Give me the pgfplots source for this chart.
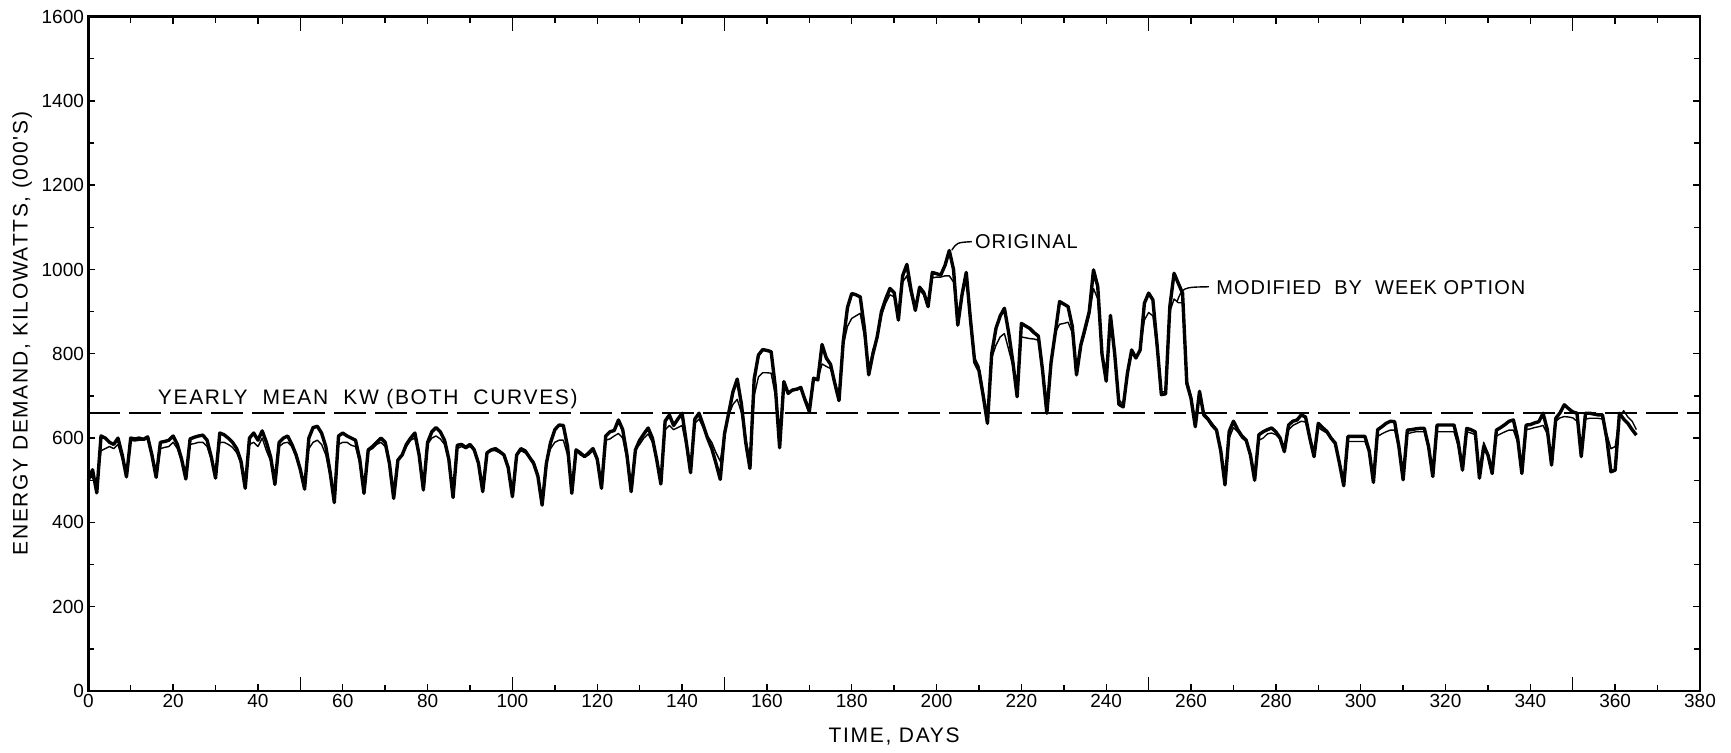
\documentclass[border=0pt]{standalone}
\usepackage{fontspec}
\setmainfont{Liberation Sans}
\newfontfamily\lbl[LetterSpace=8]{Liberation Sans}
\newfontfamily\lbs[LetterSpace=5]{Liberation Sans}
\usepackage{pgfplots}
\pgfplotsset{compat=1.18}
\usepackage{pgfplotstable}

\pgfplotstableread{
d t m
0 500 515
1 525 505
2 470 490
3 605 570
4 600 575
5 590 580
6 585 575
7 600 585
8 560 550
9 508 520
10 600 595
11 598 593
12 600 595
13 597 595
14 603 598
15 560 560
16 507 515
17 590 575
18 592 578
19 595 580
20 605 590
21 585 575
22 550 545
23 503 510
24 598 585
25 602 587
26 605 590
27 607 590
28 595 580
29 555 550
30 505 515
31 612 590
32 608 590
33 600 585
34 590 578
35 575 565
36 545 540
37 481 490
38 600 585
39 612 590
40 595 580
41 617 600
42 590 570
43 555 545
44 490 500
45 590 580
46 600 588
47 605 590
48 585 580
49 560 555
50 525 525
51 479 490
52 600 575
53 625 590
54 628 595
55 612 585
56 580 560
57 520 510
58 447 470
59 605 585
60 612 590
61 605 590
62 600 583
63 595 580
64 550 540
65 469 480
66 572 570
67 580 575
68 590 585
69 600 590
70 590 580
71 540 535
72 457 470
73 548 550
74 560 560
75 585 580
76 600 595
77 612 600
78 560 555
79 477 490
80 590 585
81 615 600
82 625 605
83 615 598
84 595 585
85 550 545
86 459 470
87 583 575
88 585 580
89 578 575
90 585 580
91 572 570
92 540 540
93 473 485
94 565 565
95 572 570
96 575 570
97 568 565
98 560 560
99 530 530
100 461 475
101 560 560
102 575 570
103 570 565
104 555 555
105 540 545
106 510 515
107 441 455
108 540 545
109 590 575
110 620 590
111 631 595
112 630 595
113 580 560
114 469 480
115 572 570
116 565 560
117 556 555
118 565 560
119 575 570
120 550 545
121 481 490
122 605 595
123 615 598
124 618 605
125 643 611
126 620 600
127 560 550
128 473 485
129 572 572
130 595 585
131 610 600
132 624 610
133 600 590
134 550 545
135 491 500
136 640 620
137 655 630
138 630 620
139 645 625
140 659 630
141 590 580
142 518 525
143 645 635
144 659 645
145 630 625
146 600 605
147 575 590
148 540 565
149 502 545
150 610 610
151 660 655
152 710 680
153 740 692
154 680 660
155 590 600
156 528 545
157 740 700
158 797 745
159 810 755
160 808 755
161 805 754
162 720 700
163 577 600
164 734 728
165 706 710
166 714 712
167 716 714
168 720 718
169 690 695
170 663 672
171 742 740
172 738 738
173 822 776
174 790 770
175 775 765
176 730 735
177 689 700
178 830 820
179 910 865
180 943 884
181 940 890
182 935 896
183 860 840
184 750 760
185 800 810
186 840 835
187 900 890
188 930 920
189 955 940
190 945 935
191 880 885
192 985 970
193 1012 985
194 950 940
195 903 910
196 958 950
197 945 940
198 912 918
199 993 980
200 990 982
201 987 982
202 1010 985
203 1045 985
204 1000 970
205 868 880
206 940 935
207 993 980
208 880 870
209 780 790
210 760 770
211 700 710
212 635 650
213 800 790
214 860 820
215 890 840
216 908 848
217 850 810
218 780 770
219 698 710
220 872 840
221 866 838
222 860 836
223 850 835
224 842 832
225 760 760
226 659 670
227 780 790
228 850 850
229 924 870
230 918 872
231 912 875
232 865 850
233 750 760
234 820 815
235 860 850
236 900 890
237 999 955
238 960 930
239 800 800
240 735 745
241 891 880
242 800 800
243 680 690
244 674 680
245 754 750
246 809 800
247 790 790
248 809 805
249 920 880
250 944 898
251 928 890
252 820 810
253 703 710
254 705 710
255 912 900
256 991 930
257 967 921
258 944 921
259 730 740
260 694 700
261 627 640
262 711 700
263 655 660
264 645 648
265 630 635
266 619 622
267 570 575
268 489 500
269 616 600
270 640 625
271 620 615
272 605 600
273 595 592
274 560 560
275 500 510
276 608 595
277 615 600
278 620 610
279 624 612
280 615 608
281 600 598
282 568 575
283 631 620
284 640 630
285 643 635
286 655 640
287 650 638
288 600 600
289 556 565
290 635 625
291 625 618
292 616 612
293 600 598
294 588 585
295 540 545
296 487 500
297 604 592
298 604 592
299 604 592
300 604 592
301 604 592
302 570 565
303 495 505
304 620 604
305 627 610
306 635 615
307 640 619
308 639 619
309 580 575
310 501 510
311 619 610
312 620 613
313 622 615
314 623 615
315 623 615
316 580 575
317 509 515
318 631 615
319 631 615
320 631 615
321 631 615
322 631 615
323 590 580
324 524 530
325 623 615
326 620 612
327 615 608
328 505 525
329 580 590
330 560 565
331 516 525
332 619 605
333 625 610
334 632 615
335 640 619
336 643 619
337 600 590
338 516 525
339 631 620
340 632 622
341 636 625
342 639 627
343 659 630
344 620 610
345 536 545
346 647 640
347 660 648
348 679 651
349 670 650
350 662 648
351 659 640
352 556 580
353 659 645
354 659 647
355 657 647
356 655 647
357 655 645
358 600 610
359 520 575
360 524 580
361 659 650
362 645 665
363 635 650
364 620 640
365 607 620
}\energy

\begin{document}
\begin{tikzpicture}
\useasboundingbox (-44.15pt,-31pt) rectangle (821.35pt,345.5pt);
\begin{axis}[
  at={(0pt,0pt)}, anchor=south west,
  scale only axis, width=805.85pt, height=337.2pt,
  xmin=0, xmax=380, ymin=0, ymax=1600,
  xtick={0,20,...,380}, minor xtick={10,30,...,370},
  ytick={0,200,...,1600}, minor ytick={100,300,...,1500},
  extra x ticks={50,100,150,250,350}, extra x tick labels={},
  extra x tick style={major tick length=7pt},
  tick align=inside,
  major tick length=3.5pt, minor tick length=3pt,
  axis line style={line width=1.4pt},
  every tick/.style={black, line width=0.7pt},
  tick label style={font=\fontsize{9.5}{10}\selectfont},
  /pgf/number format/assume math mode=true,
  /pgf/number format/set thousands separator={},
  xticklabel style={inner sep=1.5pt},
  yticklabel style={inner sep=2pt},
  xlabel={\lbl TIME, DAYS},
  ylabel={\lbl ENERGY DEMAND, KILOWATTS, (000'S)},
  label style={font=\fontsize{10.5}{12}\selectfont},
  xlabel style={at={(axis description cs:0.5,-0.068)}, anchor=center},
  ylabel style={at={(axis description cs:-0.041,0.53)}, anchor=center},
  clip=false,
]
\addplot[black, line width=1.2pt, dash pattern=on 16pt off 4.5pt] coordinates {(0,660) (380,660)};
\addplot[black, line width=1.7pt, line join=round] table[x=d, y=t] {\energy};
\addplot[black, line width=0.7pt, line join=round] table[x=d, y=m] {\energy};
\node[font=\lbl\fontsize{10.5}{12}\selectfont, anchor=center] at (axis cs:65.9,692) {YEARLY\ \ MEAN\ \ KW (BOTH\ \ CURVES)};
\draw[black, line width=0.7pt] (axis cs:203.6,1046) .. controls (axis cs:204.8,1064) .. (axis cs:208.3,1066);
\node[font=\lbs\fontsize{10}{12}\selectfont, anchor=west, inner sep=0pt] at (axis cs:209,1066) {ORIGINAL};
\draw[black, line width=0.7pt] (axis cs:256.7,924) .. controls (axis cs:258,958) .. (axis cs:264.2,959);
\node[font=\lbs\fontsize{10}{12}\selectfont, anchor=west, inner sep=0pt] at (axis cs:265.9,957) {MODIFIED\ \ BY\ \ WEEK OPTION};
\end{axis}
\end{tikzpicture}
\end{document}
